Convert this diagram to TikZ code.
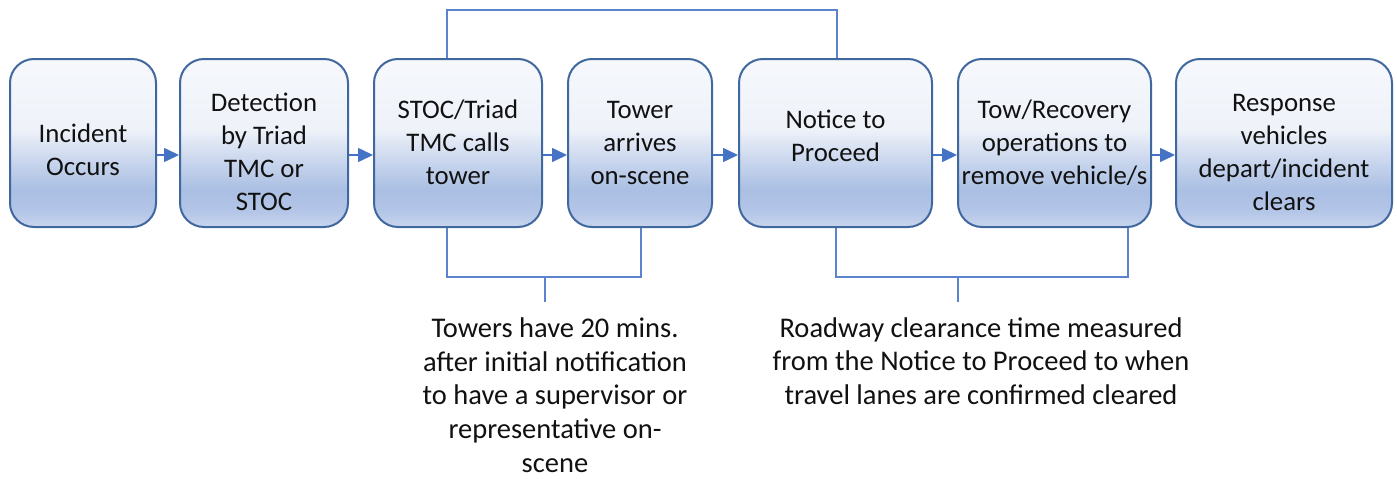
\documentclass[tikz,border=0pt]{standalone}
\usepackage{fontspec}
\setmainfont{Carlito}
\usetikzlibrary{arrows.meta}

\definecolor{boxline}{HTML}{41679F}
\definecolor{flowblue}{HTML}{4472C4}
\definecolor{linkblue}{HTML}{5B84CC}
\definecolor{inktext}{HTML}{111111}

\definecolor{sb0}{HTML}{F6F8FC}
\definecolor{sb1}{HTML}{EEF2F9}
\definecolor{sb2}{HTML}{CAD7EE}
\definecolor{sb3}{HTML}{AABFE3}
\definecolor{sb4}{HTML}{B3C5E7}
\definecolor{sb5}{HTML}{C8D5ED}
% light top fading into a mid blue, with a paler band at the bottom edge
\pgfdeclareverticalshading{stepshade}{100bp}{%
  color(0bp)=(sb5); color(25bp)=(sb5); color(30bp)=(sb4); color(36bp)=(sb3);
  color(45bp)=(sb2); color(54bp)=(sb1); color(75bp)=(sb0); color(100bp)=(sb0)}

\tikzset{
  stepbox/.style={rectangle, rounded corners=24pt, draw=boxline, line width=2pt,
    shading=stepshade, inner sep=0pt, minimum height=168pt},
  steptext/.style={align=center, text=inktext, inner sep=0pt,
    font=\fontsize{26.8}{33}\selectfont},
  flow/.style={draw=flowblue, line width=1.5pt,
    -{Triangle[length=15pt,width=14pt]}},
  link/.style={draw=linkblue, line width=1.2pt},
  note/.style={align=center, text=inktext, inner sep=0pt,
    font=\fontsize{28.5}{33.7}\selectfont}
}

\begin{document}
\begin{tikzpicture}[x=1pt,y=-1pt]
\useasboundingbox (0,0) rectangle (1397,479);
\fill[white] (0,0) rectangle (1397,479);

% process steps
\node[stepbox, minimum width=146pt] (b1) at (83,143) {};
\node[stepbox, minimum width=168pt] (b2) at (264,143) {};
\node[stepbox, minimum width=168pt] (b3) at (458,143) {};
\node[stepbox, minimum width=144pt] (b4) at (640,143) {};
\node[stepbox, minimum width=193pt] (b5) at (835.5,143) {};
\node[stepbox, minimum width=193pt] (b6) at (1054.5,143) {};
\node[stepbox, minimum width=216pt] (b7) at (1284,143) {};

\node[steptext] (t1) at (83,150) {Incident\\Occurs};
\node[steptext] (t2) at (264,152) {Detection\\by Triad\\TMC or\\STOC};
\node[steptext] (t3) at (458,142) {STOC/Triad\\TMC calls\\tower};
\node[steptext] (t4) at (640,143) {Tower\\arrives\\on-scene};
\node[steptext] (t5) at (835.5,136) {Notice to\\Proceed};
\node[steptext] (t6) at (1054.5,143) {Tow/Recovery\\operations to\\remove vehicle/s};
\node[steptext] (t7) at (1284,152) {Response\\vehicles\\depart/incident\\clears};

% arrows between steps
\coordinate (ay) at (0,155);
\draw[flow] (b1.east |- ay) -- (b2.west |- ay);
\draw[flow] (b2.east |- ay) -- (b3.west |- ay);
\draw[flow] (b3.east |- ay) -- (b4.west |- ay);
\draw[flow] (b4.east |- ay) -- (b5.west |- ay);
\draw[flow] (b5.east |- ay) -- (b6.west |- ay);
\draw[flow] (b6.east |- ay) -- (b7.west |- ay);

% bracket over the top
\coordinate (topL) at (447,10);
\coordinate (topR) at (837,10);
\draw[link] (b3.north -| topL) -- (topL) -- (topR) -- (b5.north -| topR);

% brackets underneath
\coordinate (lbL) at (447,277);
\coordinate (lbR) at (641,277);
\coordinate (lstem) at (545,302);
\draw[link] (b3.south -| lbL) -- (lbL) -- (lbR) -- (b4.south -| lbR);
\draw[link] (lstem |- lbL) -- (lstem);

\coordinate (rbL) at (836,277);
\coordinate (rbR) at (1128,277);
\coordinate (rstem) at (958,302);
\draw[link] (b5.south -| rbL) -- (rbL) -- (rbR) -- (b6.south -| rbR);
\draw[link] (rstem |- rbL) -- (rstem);

% notes
\node[note] (n1) at (555,395) {Towers have 20 mins.\\after initial notification\\to have a supervisor or\\representative on-\\scene};
\node[note] (n2) at (981,361) {Roadway clearance time measured\\from the Notice to Proceed to when\\travel lanes are confirmed cleared};
\end{tikzpicture}
\end{document}
